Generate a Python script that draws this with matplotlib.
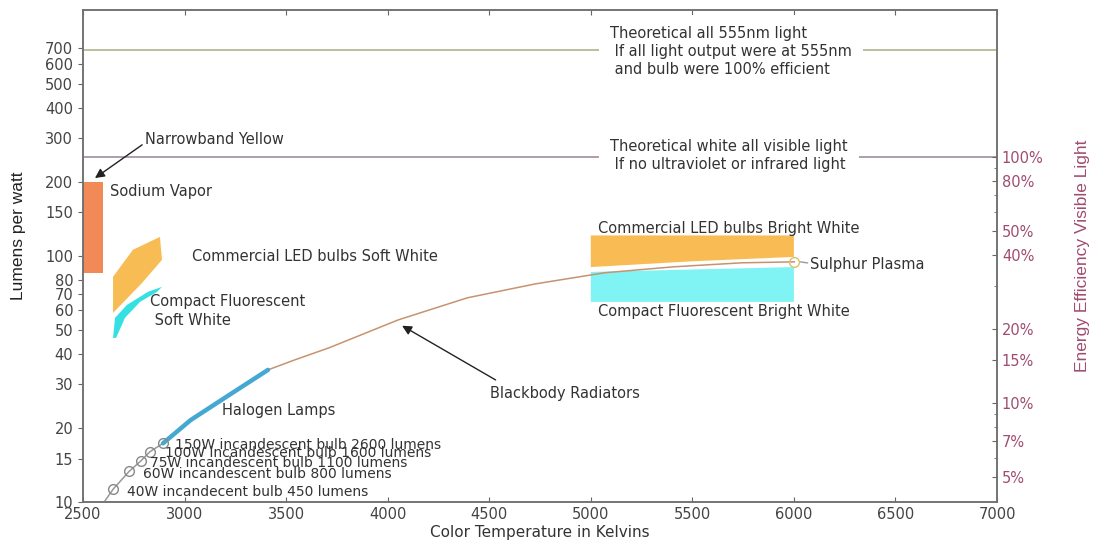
import numpy as np
import matplotlib
matplotlib.use('Agg')
import matplotlib.pyplot as plt
from matplotlib.ticker import FixedLocator, NullFormatter

# blackbody radiator curve (K, lumens per watt), incandescent part
bb_low_temp = [2590, 2648, 2727, 2786, 2830, 2894]
bb_low_lmw = [9.6, 11.25, 13.3, 14.7, 16.0, 17.3]

# halogen portion
halogen_temp = [2894, 3030, 3220, 3411]
halogen_lmw = [17.3, 21.5, 27.2, 34.4]

# rest of blackbody curve up to sulphur plasma
bb_high_temp = [3411, 3544, 3712, 4052, 4392, 4727, 5066, 5406, 5746, 6002]
bb_high_lmw = [34.4, 37.8, 42.3, 54.9, 67.5, 76.9, 85.3, 90.2, 93.7, 94.5]

# incandescent bulbs
inc_temp = [2648, 2727, 2786, 2830, 2894]
inc_lmw = [11.25, 13.3, 14.7, 16.0, 17.3]
inc_labels = ['40W incandecent bulb 450 lumens',
              '60W incandescent bulb 800 lumens',
              '75W incandescent bulb 1100 lumens',
              '100W incandescent bulb 1600 lumens',
              '150W incandescent bulb 2600 lumens']

# sodium vapor
sodium_temp = [2500, 2600]
sodium_lmw = [85, 200]

# commercial LED soft white
led_soft_temp = [2648, 2648, 2746, 2879, 2889, 2791]
led_soft_lmw = [58.6, 82.2, 105.8, 119.4, 96.3, 77.6]

# compact fluorescent soft white
cfl_soft_temp = [2648, 2658, 2717, 2820, 2889, 2865, 2781, 2707, 2663]
cfl_soft_lmw = [46.4, 56.0, 63.2, 71.4, 74.8, 71.4, 65.0, 56.0, 46.4]

# bright white bands
led_bright_temp = [5000, 6000, 6000, 5500, 5000]
led_bright_lmw = [121, 121, 99, 95, 90]
cfl_bright_temp = [5000, 6000, 6000, 5000]
cfl_bright_lmw = [86, 90, 65, 65]

# sulphur plasma
sulphur_temp = 6002
sulphur_lmw = 94.5

# theoretical limits
lmw_555 = 683
lmw_white = 252

left_ticks = [10, 15, 20, 30, 40, 50, 60, 70, 80, 100, 150, 200, 300, 400, 500, 600, 700]
right_ticks = [5, 7, 10, 15, 20, 40, 50, 80, 100]
right_minor = [6, 8, 9, 30, 60, 70, 90]
x_ticks = [2500, 3000, 3500, 4000, 4500, 5000, 5500, 6000, 6500, 7000]

plt.rcParams['font.family'] = ['DejaVu Sans']
txt = dict(fontsize=10.5, color='#333333')

fig = plt.figure(figsize=(10.96, 5.42), dpi=100)
ax = fig.add_axes([0.0757, 0.074, 0.834, 0.908])
ax.set_yscale('log')
ax.set_xlim(2500, 7000)
ax.set_ylim(10, 1000)

ax.axhline(lmw_555, color='#b0b48c', lw=1.2, zorder=1)
ax.axhline(lmw_white, color='#a08ca0', lw=1.2, zorder=1)

ax.fill_between(sodium_temp, sodium_lmw[0], sodium_lmw[1], color='#f28a58', lw=0, zorder=2)
ax.fill(led_soft_temp, led_soft_lmw, color='#f8bc55', lw=0, zorder=2)
ax.fill(cfl_soft_temp, cfl_soft_lmw, color='#35e0e3', lw=0, zorder=2)
ax.fill(led_bright_temp, led_bright_lmw, color='#f9bc55', lw=0, zorder=2)
ax.fill(cfl_bright_temp, cfl_bright_lmw, color='#80f4f4', lw=0, zorder=2)

ax.plot(bb_low_temp, bb_low_lmw, color='#999999', lw=1.1, zorder=3)
ax.plot(bb_high_temp, bb_high_lmw, color='#c8926e', lw=1.1, zorder=3)
ax.plot(halogen_temp, halogen_lmw, color='#44a8d2', lw=3.2, solid_capstyle='round', zorder=4)
ax.plot(inc_temp, inc_lmw, 'o', mfc='none', mec='#888888', ms=7, mew=1, zorder=5)
ax.plot([sulphur_temp], [sulphur_lmw], 'o', mfc='none', mec='#d8c070', ms=7, mew=1, zorder=5)

label_pos = [(2717, 11.0), (2796, 13.0), (2830, 14.4), (2904, 15.8), (2953, 17.1)]
for (tx, ty), lab in zip(label_pos, inc_labels):
    ax.text(tx, ty, lab, ha='left', va='center', zorder=6, fontsize=10, color='#333333')

ax.text(5095, 674, 'Theoretical all 555nm light\n If all light output were at 555nm\n and bulb were 100% efficient',
        ha='left', va='center', linespacing=1.25, zorder=6,
        bbox=dict(fc='white', ec='none', pad=8), **txt)
ax.text(5095, 255, 'Theoretical white all visible light\n If no ultraviolet or infrared light',
        ha='left', va='center', linespacing=1.25, zorder=6,
        bbox=dict(fc='white', ec='none', pad=8), **txt)

ax.annotate('Narrowband Yellow', xy=(2559, 207), xytext=(2805, 296), ha='left', va='center',
            arrowprops=dict(arrowstyle='-|>', color='#222222', lw=1, shrinkA=0, shrinkB=0,
                            relpos=(0, 0.3), mutation_scale=14), **txt)
ax.text(2633, 182, 'Sodium Vapor', ha='left', va='center', **txt)
ax.text(3037, 99, 'Commercial LED bulbs Soft White', ha='left', va='center', **txt)
ax.text(2830, 59.8, 'Compact Fluorescent\n Soft White', ha='left', va='center', linespacing=1.3, **txt)
ax.text(3185, 23.5, 'Halogen Lamps', ha='left', va='center', **txt)
ax.annotate('Blackbody Radiators', xy=(4071, 52), xytext=(4505, 27.7), ha='left', va='center',
            arrowprops=dict(arrowstyle='-|>', color='#222222', lw=1, shrinkA=4, shrinkB=0,
                            relpos=(0.1, 1.0), mutation_scale=14), **txt)
ax.annotate('Sulphur Plasma', xy=(sulphur_temp + 30, sulphur_lmw), xytext=(6081, 91.9), ha='left', va='center',
            arrowprops=dict(arrowstyle='-', color='#999999', lw=1, shrinkA=0, shrinkB=0, relpos=(0, 0.6)), **txt)
ax.text(5037, 128.7, 'Commercial LED bulbs Bright White', ha='left', va='center', **txt)
ax.text(5037, 59.2, 'Compact Fluorescent Bright White', ha='left', va='center', **txt)

ax.xaxis.set_major_locator(FixedLocator(x_ticks))
ax.yaxis.set_major_locator(FixedLocator(left_ticks))
ax.yaxis.set_minor_locator(FixedLocator([]))
ax.yaxis.set_minor_formatter(NullFormatter())
ax.set_yticklabels([str(t) for t in left_ticks])
ax.tick_params(axis='x', direction='in', top=True, labelsize=10.5, labelcolor='#444444', color='#666666')
ax.tick_params(axis='y', direction='out', labelsize=10.5, labelcolor='#444444', color='#666666')
for s in ax.spines.values():
    s.set_color('#707070')
    s.set_linewidth(1.1)

ax.set_xlabel('Color Temperature in Kelvins', fontsize=11, color='#333333', labelpad=2)
ax.set_ylabel('Lumens per watt', fontsize=12.5, color='#222222',
              family=['Liberation Sans Narrow', 'Liberation Sans', 'DejaVu Sans'])
ax.yaxis.set_label_coords(-0.062, 0.54)

ax2 = ax.twinx()
ax2.set_yscale('log')
ax2.set_ylim(10 / lmw_white * 100, 1000 / lmw_white * 100)
ax2.yaxis.set_major_locator(FixedLocator(right_ticks))
ax2.yaxis.set_minor_locator(FixedLocator(right_minor))
ax2.yaxis.set_minor_formatter(NullFormatter())
ax2.set_yticklabels([str(t) + '%' for t in right_ticks])
ax2.tick_params(axis='y', which='both', direction='in', labelsize=10.5, labelcolor='#a04c70', color='#666666')
ax2.tick_params(axis='y', which='minor', length=2.5)
for s in ax2.spines.values():
    s.set_color('#707070')
    s.set_linewidth(1.1)
ax2.set_ylabel('Energy Efficiency Visible Light', fontsize=12.5, color='#a04c70',
               family=['Liberation Sans Narrow', 'Liberation Sans', 'DejaVu Sans'])
ax2.yaxis.set_label_coords(1.085, 0.5)

fig.savefig('out.png', dpi=100)
